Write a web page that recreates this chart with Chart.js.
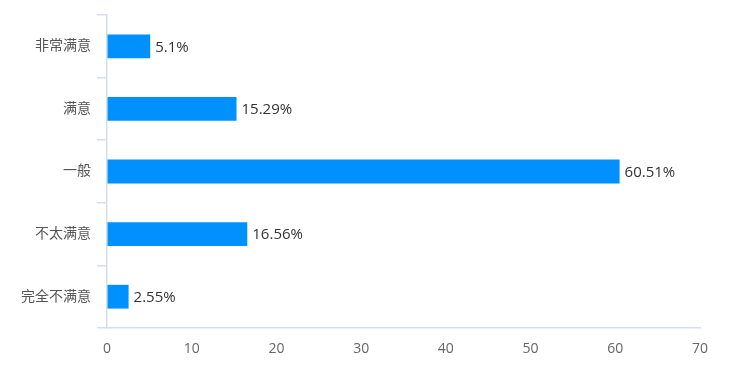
<!DOCTYPE html>
<html><head><meta charset="utf-8">
<script src="https://cdn.jsdelivr.net/npm/chart.js@4/dist/chart.umd.min.js"></script>
<style>html,body{margin:0;padding:0;background:#fff}#wrap{width:729px;height:377px}</style>
</head><body><div id="wrap"><canvas id="c" width="729" height="377"></canvas></div>
<script>
const categories = ['非常满意','满意','一般','不太满意','完全不满意'];
const values = [5.1, 15.29, 60.51, 16.56, 2.55];
const valueLabels = ['5.1%','15.29%','60.51%','16.56%','2.55%'];
const xTicks = [0,10,20,30,40,50,60,70];

const FONT = '"Open Sans","Noto Sans CJK SC",sans-serif';
const valueLabelPlugin = {
  id:'valueLabels',
  afterDatasetsDraw(chart){
    const ctx = chart.ctx;
    const meta = chart.getDatasetMeta(0);
    ctx.save();
    ctx.font = '15px ' + FONT;
    ctx.fillStyle = '#333';
    ctx.textAlign = 'left';
    ctx.textBaseline = 'middle';
    meta.data.forEach((bar,i)=>{
      ctx.fillText(valueLabels[i], bar.x + 5, bar.y + 1);
    });
    ctx.restore();
  }
};

new Chart(document.getElementById('c'), {
  type:'bar',
  data:{labels:categories, datasets:[{data:values, backgroundColor:'#0091ff', borderWidth:0, categoryPercentage:0.76, barPercentage:0.5}]},
  options:{
    indexAxis:'y', responsive:false, animation:false,
    layout:{padding:{left:0,right:29,top:15,bottom:0}},
    plugins:{legend:{display:false}, tooltip:{enabled:false}},
    scales:{
      x:{min:0,max:70,
        ticks:{stepSize:10, color:'#666', font:{family:FONT,size:14}, padding:13,
          callback:(v)=> xTicks.includes(v)? String(v):''},
        grid:{display:true, drawOnChartArea:false, drawTicks:false, color:'rgba(0,0,0,0)'},
        border:{display:true, color:'#d3dfec', width:1.5},
        afterFit(s){ s.height = 49; }
      },
      y:{
        ticks:{color:'#555', font:{family:FONT,size:14}, padding:6},
        grid:{display:true, offset:true, drawOnChartArea:false, drawTicks:true, tickLength:10, color:'#d3dfec', lineWidth:1.5},
        border:{display:true, color:'#d3dfec', width:1.5},
        afterFit(s){ s.width = 107; }
      }
    }
  },
  plugins:[valueLabelPlugin]
});
</script></body></html>
